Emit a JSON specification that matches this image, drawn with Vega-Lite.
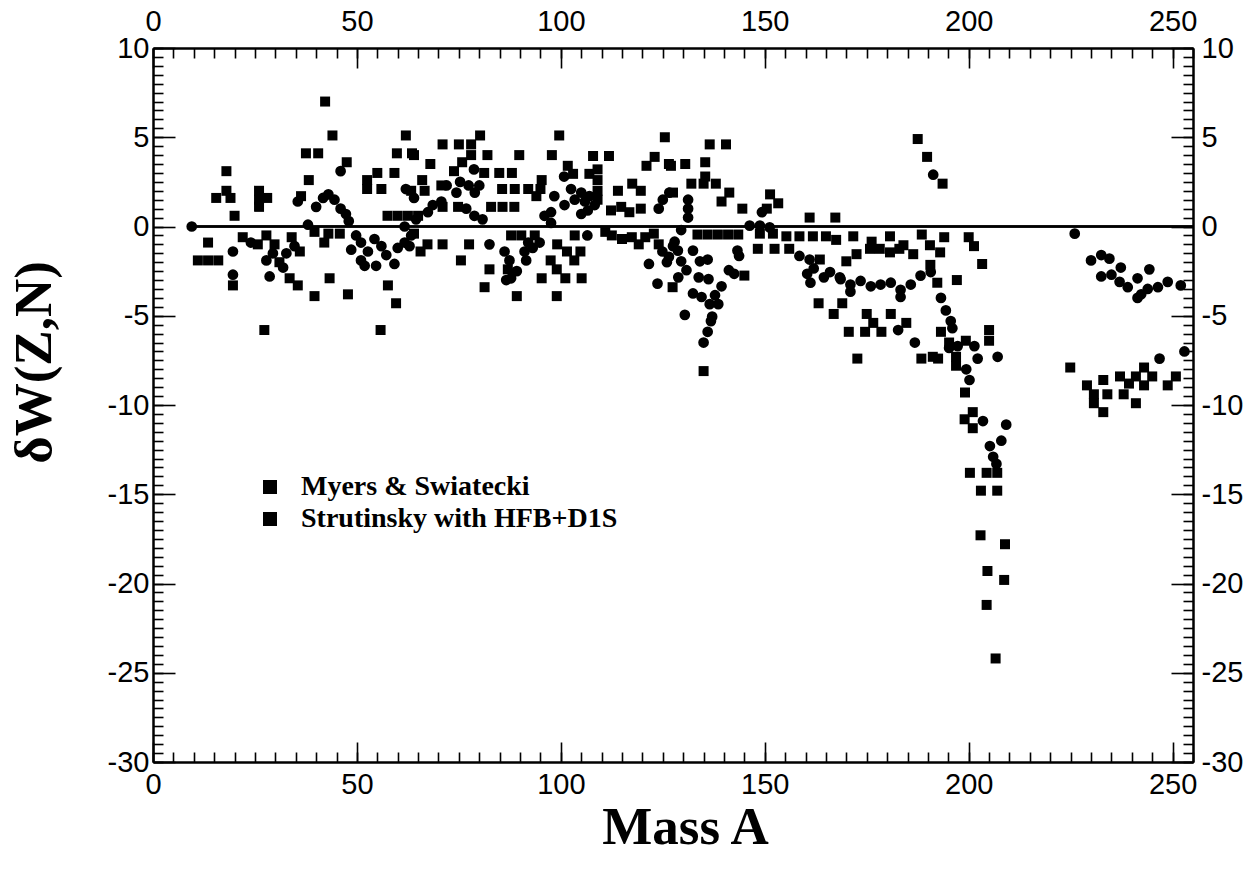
{
  "$schema": "https://vega.github.io/schema/vega-lite/v6.json",
  "width": 1040,
  "height": 714,
  "autosize": {"type": "none"},
  "padding": {"left": 153, "top": 48, "right": 64, "bottom": 110},
  "background": "white",
  "config": {
    "view": {"stroke": null},
    "axis": {
      "domainColor": "black", "domainWidth": 2, "tickColor": "black", "tickWidth": 1.6,
      "labelFont": "Liberation Sans", "labelFontSize": 29, "labelColor": "black",
      "grid": false, "labelFlush": false, "labelOverlap": false, "titleColor": "black"
    }
  },
  "datasets": {
    "pts": [
      {"A":42.2,"W":7.0,"s":"M"},{"A":44,"W":5.1,"s":"M"},{"A":62,"W":5.1,"s":"M"},{"A":37.5,"W":4.1,"s":"M"},{"A":40.5,"W":4.1,"s":"M"},
      {"A":59.8,"W":4.1,"s":"M"},{"A":63.5,"W":4.1,"s":"M"},{"A":47.5,"W":3.6,"s":"M"},{"A":18,"W":3.1,"s":"M"},{"A":38.2,"W":2.6,"s":"M"},
      {"A":55,"W":3.0,"s":"M"},{"A":59.2,"W":3.0,"s":"M"},{"A":52.5,"W":2.6,"s":"M"},{"A":52.5,"W":2.1,"s":"M"},{"A":56,"W":2.1,"s":"M"},
      {"A":18,"W":2.0,"s":"M"},{"A":15.5,"W":1.6,"s":"M"},{"A":19,"W":1.6,"s":"M"},{"A":26,"W":2.0,"s":"M"},{"A":26,"W":1.5,"s":"M"},
      {"A":28,"W":1.6,"s":"M"},{"A":26,"W":1.1,"s":"M"},{"A":36.3,"W":1.7,"s":"M"},{"A":20,"W":0.6,"s":"M"},{"A":57.5,"W":0.6,"s":"M"},
      {"A":60,"W":0.6,"s":"M"},{"A":62.5,"W":0.6,"s":"M"},{"A":65,"W":0.6,"s":"M"},{"A":13.5,"W":-0.9,"s":"M"},{"A":11,"W":-1.9,"s":"M"},
      {"A":13.5,"W":-1.9,"s":"M"},{"A":16,"W":-1.9,"s":"M"},{"A":19.6,"W":-3.3,"s":"M"},{"A":33.5,"W":-2.9,"s":"M"},{"A":35.5,"W":-3.3,"s":"M"},
      {"A":39.6,"W":-3.9,"s":"M"},{"A":43.3,"W":-2.9,"s":"M"},{"A":39.6,"W":-0.3,"s":"M"},{"A":43,"W":-0.4,"s":"M"},{"A":45.8,"W":-0.4,"s":"M"},
      {"A":42,"W":-0.9,"s":"M"},{"A":47.8,"W":-3.8,"s":"M"},{"A":57.6,"W":-3.3,"s":"M"},{"A":59.6,"W":-4.3,"s":"M"},{"A":27.3,"W":-5.8,"s":"M"},
      {"A":55.8,"W":-5.8,"s":"M"},{"A":22,"W":-0.6,"s":"M"},{"A":25.7,"W":-1.0,"s":"M"},{"A":27.8,"W":-0.5,"s":"M"},{"A":29.8,"W":-1.0,"s":"M"},
      {"A":31,"W":-2.0,"s":"M"},{"A":34,"W":-0.6,"s":"M"},{"A":36,"W":-1.4,"s":"M"},
      {"A":80.2,"W":5.1,"s":"M"},{"A":99.6,"W":5.1,"s":"M"},{"A":125.5,"W":5.0,"s":"M"},{"A":71,"W":4.6,"s":"M"},{"A":75,"W":4.6,"s":"M"},
      {"A":78,"W":4.6,"s":"M"},{"A":78,"W":4.0,"s":"M"},{"A":64,"W":4.0,"s":"M"},{"A":82,"W":4.0,"s":"M"},{"A":89.8,"W":4.0,"s":"M"},
      {"A":97.8,"W":4.0,"s":"M"},{"A":107.9,"W":3.95,"s":"M"},{"A":111.8,"W":3.95,"s":"M"},{"A":123,"W":3.9,"s":"M"},{"A":121,"W":3.4,"s":"M"},
      {"A":127,"W":3.4,"s":"M"},{"A":68,"W":3.5,"s":"M"},{"A":101.7,"W":3.4,"s":"M"},{"A":103,"W":2.95,"s":"M"},{"A":107,"W":2.95,"s":"M"},
      {"A":109,"W":3.2,"s":"M"},{"A":109,"W":2.6,"s":"M"},{"A":109,"W":2.0,"s":"M"},{"A":109,"W":1.5,"s":"M"},{"A":75.8,"W":3.6,"s":"M"},
      {"A":73.8,"W":3.1,"s":"M"},{"A":81.2,"W":3.0,"s":"M"},{"A":84.9,"W":3.0,"s":"M"},{"A":88,"W":3.0,"s":"M"},{"A":66,"W":2.6,"s":"M"},
      {"A":63.3,"W":2.0,"s":"M"},{"A":66.6,"W":2.0,"s":"M"},{"A":70.7,"W":2.3,"s":"M"},{"A":71,"W":1.1,"s":"M"},{"A":74.8,"W":1.1,"s":"M"},
      {"A":82.9,"W":1.1,"s":"M"},{"A":85.7,"W":1.1,"s":"M"},{"A":88.6,"W":1.1,"s":"M"},{"A":85.6,"W":2.1,"s":"M"},{"A":88.7,"W":2.1,"s":"M"},
      {"A":92,"W":2.1,"s":"M"},{"A":95,"W":2.1,"s":"M"},{"A":95.3,"W":2.6,"s":"M"},{"A":94,"W":1.7,"s":"M"},{"A":114,"W":2.0,"s":"M"},
      {"A":119.6,"W":2.0,"s":"M"},{"A":117.5,"W":2.4,"s":"M"},{"A":112.3,"W":0.9,"s":"M"},{"A":114.8,"W":1.1,"s":"M"},{"A":116.8,"W":0.8,"s":"M"},
      {"A":119.6,"W":1.0,"s":"M"},{"A":64,"W":-0.4,"s":"M"},{"A":65.6,"W":-1.4,"s":"M"},{"A":67.3,"W":-1.0,"s":"M"},{"A":71,"W":-1.0,"s":"M"},
      {"A":77.5,"W":-1.0,"s":"M"},{"A":75.5,"W":-1.9,"s":"M"},{"A":87.8,"W":-0.5,"s":"M"},{"A":90.3,"W":-0.5,"s":"M"},{"A":93.6,"W":-0.5,"s":"M"},
      {"A":99.1,"W":-1.0,"s":"M"},{"A":101.5,"W":-1.4,"s":"M"},{"A":104.8,"W":-1.4,"s":"M"},{"A":97.5,"W":-1.9,"s":"M"},{"A":103.3,"W":-1.9,"s":"M"},
      {"A":82.5,"W":-2.4,"s":"M"},{"A":87,"W":-2.4,"s":"M"},{"A":95.3,"W":-2.9,"s":"M"},{"A":99,"W":-2.4,"s":"M"},{"A":101.1,"W":-2.9,"s":"M"},
      {"A":105.1,"W":-2.9,"s":"M"},{"A":81.3,"W":-3.4,"s":"M"},{"A":89.2,"W":-3.9,"s":"M"},{"A":99,"W":-3.9,"s":"M"},{"A":103.4,"W":-0.5,"s":"M"},
      {"A":110.9,"W":-0.3,"s":"M"},{"A":112.5,"W":-0.5,"s":"M"},{"A":115,"W":-0.7,"s":"M"},{"A":117.4,"W":-0.6,"s":"M"},{"A":119.1,"W":-1.0,"s":"M"},
      {"A":120.7,"W":-0.6,"s":"M"},{"A":122.8,"W":-0.4,"s":"M"},{"A":124,"W":-1.0,"s":"M"},{"A":127.4,"W":-3.4,"s":"M"},
      {"A":136.5,"W":4.6,"s":"M"},{"A":140.5,"W":4.6,"s":"M"},{"A":126.5,"W":3.5,"s":"M"},{"A":130.5,"W":3.5,"s":"M"},{"A":135.4,"W":3.6,"s":"M"},
      {"A":135.4,"W":2.8,"s":"M"},{"A":132,"W":2.4,"s":"M"},{"A":135,"W":2.4,"s":"M"},{"A":138,"W":2.4,"s":"M"},{"A":127.5,"W":1.9,"s":"M"},
      {"A":141.3,"W":1.9,"s":"M"},{"A":139.4,"W":1.4,"s":"M"},{"A":151.3,"W":1.8,"s":"M"},{"A":153.3,"W":1.3,"s":"M"},{"A":144.5,"W":1.0,"s":"M"},
      {"A":150.5,"W":1.0,"s":"M"},{"A":161,"W":0.5,"s":"M"},{"A":167.3,"W":0.5,"s":"M"},{"A":133.5,"W":-0.45,"s":"M"},{"A":136,"W":-0.45,"s":"M"},
      {"A":138.5,"W":-0.45,"s":"M"},{"A":141,"W":-0.45,"s":"M"},{"A":143.5,"W":-0.45,"s":"M"},{"A":148.8,"W":-0.4,"s":"M"},{"A":152,"W":-0.4,"s":"M"},
      {"A":155.3,"W":-0.55,"s":"M"},{"A":158.5,"W":-0.55,"s":"M"},{"A":161.8,"W":-0.55,"s":"M"},{"A":165,"W":-0.55,"s":"M"},{"A":167.5,"W":-0.75,"s":"M"},
      {"A":171.7,"W":-0.55,"s":"M"},{"A":176.2,"W":-0.85,"s":"M"},{"A":180.7,"W":-0.55,"s":"M"},{"A":184,"W":-1.05,"s":"M"},{"A":188.5,"W":-0.45,"s":"M"},
      {"A":190.5,"W":-1.05,"s":"M"},{"A":193,"W":-1.45,"s":"M"},{"A":148.3,"W":-1.25,"s":"M"},{"A":152.4,"W":-1.25,"s":"M"},{"A":156,"W":-1.25,"s":"M"},
      {"A":163.5,"W":-1.85,"s":"M"},{"A":170,"W":-1.95,"s":"M"},{"A":172.5,"W":-1.55,"s":"M"},{"A":175.8,"W":-1.25,"s":"M"},{"A":178.2,"W":-1.25,"s":"M"},
      {"A":180.7,"W":-1.45,"s":"M"},{"A":183,"W":-1.25,"s":"M"},{"A":186.4,"W":-1.55,"s":"M"},{"A":190.6,"W":-2.15,"s":"M"},{"A":192.3,"W":-3.15,"s":"M"},
      {"A":145,"W":-2.75,"s":"M"},{"A":163.2,"W":-4.3,"s":"M"},{"A":169,"W":-4.3,"s":"M"},{"A":166.9,"W":-4.9,"s":"M"},{"A":175,"W":-4.9,"s":"M"},
      {"A":180.9,"W":-4.9,"s":"M"},{"A":176.6,"W":-5.4,"s":"M"},{"A":178.6,"W":-5.9,"s":"M"},{"A":170.6,"W":-5.9,"s":"M"},{"A":174.6,"W":-5.9,"s":"M"},
      {"A":184.7,"W":-5.4,"s":"M"},{"A":172.7,"W":-7.4,"s":"M"},{"A":188.4,"W":-7.4,"s":"M"},{"A":192.5,"W":-7.4,"s":"M"},{"A":135,"W":-8.1,"s":"M"},
      {"A":189.8,"W":3.9,"s":"M"},{"A":193.6,"W":2.4,"s":"M"},{"A":187.5,"W":4.9,"s":"M"},
      {"A":194,"W":-0.6,"s":"M"},{"A":200,"W":-0.6,"s":"M"},{"A":201.3,"W":-1.1,"s":"M"},{"A":203.3,"W":-2.1,"s":"M"},{"A":197.1,"W":-3.0,"s":"M"},
      {"A":193.2,"W":-5.9,"s":"M"},{"A":195.2,"W":-6.5,"s":"M"},{"A":199.3,"W":-6.4,"s":"M"},{"A":205,"W":-5.8,"s":"M"},{"A":205,"W":-6.4,"s":"M"},
      {"A":191.2,"W":-7.3,"s":"M"},{"A":196.9,"W":-7.3,"s":"M"},{"A":196.9,"W":-7.8,"s":"M"},{"A":199.1,"W":-9.3,"s":"M"},{"A":199,"W":-10.8,"s":"M"},
      {"A":201,"W":-10.4,"s":"M"},{"A":201,"W":-11.3,"s":"M"},{"A":200.3,"W":-13.8,"s":"M"},{"A":204.4,"W":-13.8,"s":"M"},{"A":207,"W":-13.8,"s":"M"},
      {"A":203,"W":-14.8,"s":"M"},{"A":207,"W":-14.8,"s":"M"},{"A":202.9,"W":-17.3,"s":"M"},{"A":208.9,"W":-17.8,"s":"M"},{"A":204.6,"W":-19.3,"s":"M"},
      {"A":208.7,"W":-19.8,"s":"M"},{"A":204.4,"W":-21.2,"s":"M"},{"A":206.6,"W":-24.2,"s":"M"},{"A":224.9,"W":-7.9,"s":"M"},{"A":229,"W":-8.9,"s":"M"},
      {"A":230.7,"W":-9.4,"s":"M"},{"A":230.7,"W":-9.9,"s":"M"},{"A":233,"W":-10.4,"s":"M"},{"A":233,"W":-8.6,"s":"M"},{"A":234,"W":-9.4,"s":"M"},
      {"A":238,"W":-9.4,"s":"M"},{"A":237.1,"W":-8.4,"s":"M"},{"A":239.3,"W":-8.8,"s":"M"},{"A":241,"W":-8.4,"s":"M"},{"A":243,"W":-7.9,"s":"M"},
      {"A":243,"W":-8.9,"s":"M"},{"A":245,"W":-8.4,"s":"M"},{"A":241,"W":-9.9,"s":"M"},{"A":248.8,"W":-8.9,"s":"M"},{"A":250.8,"W":-8.4,"s":"M"},

      {"A":9.5,"W":0,"s":"S"},{"A":19.6,"W":-1.4,"s":"S"},{"A":19.6,"W":-2.7,"s":"S"},{"A":28.6,"W":-2.8,"s":"S"},{"A":31.9,"W":-2.3,"s":"S"},
      {"A":35.5,"W":1.4,"s":"S"},{"A":43,"W":1.8,"s":"S"},{"A":41.7,"W":1.6,"s":"S"},{"A":40,"W":1.1,"s":"S"},{"A":44.5,"W":1.5,"s":"S"},
      {"A":46,"W":1.0,"s":"S"},{"A":47.3,"W":0.7,"s":"S"},{"A":48,"W":0.3,"s":"S"},{"A":38,"W":0.1,"s":"S"},{"A":46,"W":3.1,"s":"S"},
      {"A":61.7,"W":0,"s":"S"},{"A":62,"W":2.1,"s":"S"},{"A":64,"W":1.6,"s":"S"},{"A":49.8,"W":-0.5,"s":"S"},{"A":48.6,"W":-1.3,"s":"S"},
      {"A":51,"W":-0.9,"s":"S"},{"A":51,"W":-1.9,"s":"S"},{"A":52.7,"W":-1.4,"s":"S"},{"A":51.9,"W":-2.2,"s":"S"},{"A":54.7,"W":-2.2,"s":"S"},
      {"A":54.3,"W":-0.7,"s":"S"},{"A":56,"W":-1.1,"s":"S"},{"A":57.2,"W":-1.6,"s":"S"},{"A":59.2,"W":-2.1,"s":"S"},{"A":60,"W":-1.2,"s":"S"},
      {"A":61.7,"W":-0.9,"s":"S"},{"A":63.3,"W":-0.5,"s":"S"},{"A":24,"W":-0.9,"s":"S"},{"A":29.4,"W":-1.5,"s":"S"},{"A":27.8,"W":-1.9,"s":"S"},
      {"A":34.7,"W":-1.1,"s":"S"},{"A":32.7,"W":-1.5,"s":"S"},
      {"A":100.8,"W":2.8,"s":"S"},{"A":78.7,"W":3.2,"s":"S"},{"A":75.3,"W":2.5,"s":"S"},{"A":77.4,"W":2.3,"s":"S"},{"A":72,"W":2.3,"s":"S"},
      {"A":74.4,"W":1.9,"s":"S"},{"A":78.9,"W":1.9,"s":"S"},{"A":80,"W":2.3,"s":"S"},{"A":68.6,"W":1.2,"s":"S"},{"A":67.4,"W":0.8,"s":"S"},
      {"A":64.5,"W":0.4,"s":"S"},{"A":70.7,"W":1.4,"s":"S"},{"A":76.8,"W":1.0,"s":"S"},{"A":78.8,"W":0.6,"s":"S"},{"A":80.8,"W":0.4,"s":"S"},
      {"A":98.4,"W":1.7,"s":"S"},{"A":100.9,"W":1.2,"s":"S"},{"A":96,"W":0.6,"s":"S"},{"A":97.6,"W":0.8,"s":"S"},{"A":97.6,"W":0.2,"s":"S"},
      {"A":102.5,"W":2.1,"s":"S"},{"A":105,"W":1.9,"s":"S"},{"A":107,"W":1.7,"s":"S"},{"A":103.4,"W":1.5,"s":"S"},{"A":105.9,"W":1.4,"s":"S"},
      {"A":108.3,"W":1.2,"s":"S"},{"A":105,"W":0.7,"s":"S"},{"A":106.6,"W":0.9,"s":"S"},{"A":124,"W":1.0,"s":"S"},{"A":126.6,"W":1.9,"s":"S"},
      {"A":125,"W":1.5,"s":"S"},{"A":62.9,"W":-1.1,"s":"S"},{"A":82.5,"W":-1.0,"s":"S"},{"A":86.2,"W":-1.4,"s":"S"},{"A":87.4,"W":-1.9,"s":"S"},
      {"A":92,"W":-0.9,"s":"S"},{"A":94.8,"W":-0.9,"s":"S"},{"A":91.1,"W":-1.4,"s":"S"},{"A":93.1,"W":-1.2,"s":"S"},{"A":91.5,"W":-1.9,"s":"S"},
      {"A":89.2,"W":-2.5,"s":"S"},{"A":87.8,"W":-2.9,"s":"S"},{"A":86.6,"W":-3.0,"s":"S"},{"A":106.5,"W":-0.5,"s":"S"},{"A":121.6,"W":-2.1,"s":"S"},
      {"A":123.7,"W":-3.2,"s":"S"},{"A":124.9,"W":-1.4,"s":"S"},{"A":126.5,"W":-1.7,"s":"S"},{"A":126,"W":-2.0,"s":"S"},{"A":127.5,"W":-1.1,"s":"S"},
      {"A":131.2,"W":1.5,"s":"S"},{"A":131.2,"W":1.0,"s":"S"},{"A":131.2,"W":0.5,"s":"S"},{"A":149.3,"W":0.8,"s":"S"},{"A":146.3,"W":0.05,"s":"S"},
      {"A":148.8,"W":0.05,"s":"S"},{"A":151.2,"W":-0.05,"s":"S"},{"A":129.5,"W":-0.2,"s":"S"},{"A":127.9,"W":-0.85,"s":"S"},{"A":128.7,"W":-1.35,"s":"S"},
      {"A":132.4,"W":-1.35,"s":"S"},{"A":136,"W":-1.85,"s":"S"},{"A":129.5,"W":-1.95,"s":"S"},{"A":130.8,"W":-2.45,"s":"S"},{"A":134.1,"W":-1.95,"s":"S"},
      {"A":133.8,"W":-2.85,"s":"S"},{"A":128.8,"W":-2.85,"s":"S"},{"A":136.2,"W":-2.95,"s":"S"},{"A":139.4,"W":-3.35,"s":"S"},{"A":132.4,"W":-3.75,"s":"S"},
      {"A":134.5,"W":-3.95,"s":"S"},{"A":137.8,"W":-3.85,"s":"S"},{"A":136.5,"W":-4.35,"s":"S"},{"A":138.6,"W":-4.35,"s":"S"},{"A":130.4,"W":-4.95,"s":"S"},
      {"A":137.1,"W":-5.05,"s":"S"},{"A":136.8,"W":-5.3,"s":"S"},{"A":136,"W":-5.9,"s":"S"},{"A":135,"W":-6.5,"s":"S"},{"A":141.2,"W":-2.45,"s":"S"},
      {"A":143.7,"W":-1.65,"s":"S"},{"A":143.3,"W":-1.35,"s":"S"},{"A":142.5,"W":-2.65,"s":"S"},{"A":158.5,"W":-1.65,"s":"S"},{"A":161,"W":-1.85,"s":"S"},
      {"A":162,"W":-2.35,"s":"S"},{"A":160.4,"W":-2.65,"s":"S"},{"A":166,"W":-2.55,"s":"S"},{"A":168.4,"W":-2.85,"s":"S"},{"A":161.2,"W":-3.15,"s":"S"},
      {"A":164.5,"W":-2.85,"s":"S"},{"A":168.6,"W":-2.95,"s":"S"},{"A":171,"W":-3.25,"s":"S"},{"A":173.5,"W":-3.05,"s":"S"},{"A":176,"W":-3.35,"s":"S"},
      {"A":178.4,"W":-3.25,"s":"S"},{"A":180.9,"W":-3.15,"s":"S"},{"A":183.3,"W":-3.55,"s":"S"},{"A":185.8,"W":-3.25,"s":"S"},{"A":188.2,"W":-2.75,"s":"S"},
      {"A":190.7,"W":-2.55,"s":"S"},{"A":171,"W":-3.65,"s":"S"},{"A":183.3,"W":-3.95,"s":"S"},{"A":182.7,"W":-5.8,"s":"S"},{"A":186.8,"W":-6.5,"s":"S"},
      {"A":191.3,"W":2.9,"s":"S"},
      {"A":193.2,"W":-4.0,"s":"S"},{"A":194.4,"W":-4.7,"s":"S"},{"A":195.6,"W":-5.3,"s":"S"},{"A":196,"W":-5.7,"s":"S"},{"A":195.2,"W":-6.8,"s":"S"},
      {"A":197.3,"W":-6.7,"s":"S"},{"A":201.4,"W":-6.7,"s":"S"},{"A":202.2,"W":-7.4,"s":"S"},{"A":207.1,"W":-7.3,"s":"S"},{"A":199.4,"W":-8.0,"s":"S"},
      {"A":200.2,"W":-8.6,"s":"S"},{"A":203.5,"W":-10.9,"s":"S"},{"A":209.2,"W":-11.1,"s":"S"},{"A":208,"W":-12.0,"s":"S"},{"A":205.2,"W":-12.3,"s":"S"},
      {"A":206,"W":-12.9,"s":"S"},{"A":206.8,"W":-13.3,"s":"S"},{"A":226,"W":-0.4,"s":"S"},{"A":230,"W":-1.9,"s":"S"},{"A":232.5,"W":-1.6,"s":"S"},
      {"A":234.5,"W":-1.8,"s":"S"},{"A":237.3,"W":-2.3,"s":"S"},{"A":232.5,"W":-2.8,"s":"S"},{"A":235,"W":-2.7,"s":"S"},{"A":237,"W":-3.1,"s":"S"},
      {"A":239,"W":-3.4,"s":"S"},{"A":241.4,"W":-2.9,"s":"S"},{"A":244.3,"W":-2.4,"s":"S"},{"A":242.3,"W":-3.8,"s":"S"},{"A":243.9,"W":-3.5,"s":"S"},
      {"A":246.4,"W":-3.4,"s":"S"},{"A":248.8,"W":-3.1,"s":"S"},{"A":252,"W":-3.3,"s":"S"},{"A":241.4,"W":-4.0,"s":"S"},{"A":246.8,"W":-7.4,"s":"S"},
      {"A":252.9,"W":-7.0,"s":"S"}
    ],
    "zero": [{"A": 9.5, "A2": 255, "W": 0}]
  },
  "resolve": {"axis": {"x": "independent", "y": "independent"}},
  "layer": [
    {
      "data": {"name": "pts"},
      "transform": [{"filter": "datum.s == 'M'"}],
      "mark": {"type": "point", "shape": "square", "filled": true, "size": 100, "opacity": 1},
      "encoding": {
        "x": {"field": "A", "type": "quantitative", "scale": {"domain": [0, 255], "nice": false, "zero": false},
          "axis": {"orient": "bottom", "values": [0, 50, 100, 150, 200, 250], "tickSize": -20, "labelPadding": 28,
            "labelExpr": "'' + datum.value",
            "title": "Mass A", "titleFont": "Liberation Serif", "titleFontSize": 53, "titleFontWeight": "bold", "titlePadding": 2, "titleX": 532}},
        "y": {"field": "W", "type": "quantitative", "scale": {"domain": [-30, 10], "nice": false, "zero": false},
          "axis": {"orient": "left", "values": [-30, -25, -20, -15, -10, -5, 0, 5, 10], "tickSize": -22, "labelPadding": 26,
            "labelExpr": "'' + datum.value",
            "title": "δW(Z,N)", "titleFont": "Liberation Serif", "titleFontSize": 53, "titleFontWeight": "bold", "titlePadding": 46, "titleY": 314}},
        "color": {"field": "s", "type": "nominal", "scale": {"domain": ["M", "S"], "range": ["black", "black"]},
          "legend": {"orient": "none", "legendX": 103, "legendY": 425, "title": null, "symbolType": "square", "symbolSize": 196,
            "symbolStrokeWidth": 0, "labelFont": "Liberation Serif", "labelFontWeight": "bold", "labelFontSize": 28, "labelColor": "black",
            "labelOffset": 17, "rowPadding": 4, "padding": 0, "labelLimit": 600,
            "labelExpr": "datum.label == 'M' ? 'Myers & Swiatecki' : 'Strutinsky with HFB+D1S'"}}
      }
    },
    {
      "data": {"name": "pts"},
      "transform": [{"filter": "datum.s == 'S'"}],
      "mark": {"type": "point", "shape": "circle", "filled": true, "size": 115, "opacity": 1, "color": "black"},
      "encoding": {
        "x": {"field": "A", "type": "quantitative",
          "axis": {"orient": "top", "values": [0, 50, 100, 150, 200, 250], "tickSize": -20, "labelPadding": 32, "title": null,
            "labelExpr": "'' + datum.value"}},
        "y": {"field": "W", "type": "quantitative",
          "axis": {"orient": "right", "values": [-30, -25, -20, -15, -10, -5, 0, 5, 10], "tickSize": -22, "labelPadding": 30, "title": null,
            "labelExpr": "'' + datum.value"}}
      }
    },
    {
      "data": {"name": "zero"},
      "mark": {"type": "rule", "color": "black", "strokeWidth": 2.5},
      "encoding": {
        "x": {"field": "A", "type": "quantitative",
          "axis": {"orient": "bottom", "values": [0,5,10,15,20,25,30,35,40,45,50,55,60,65,70,75,80,85,90,95,100,105,110,115,120,125,130,135,140,145,150,155,160,165,170,175,180,185,190,195,200,205,210,215,220,225,230,235,240,245,250,255], "tickSize": -10, "labels": false, "title": null}},
        "x2": {"field": "A2"},
        "y": {"field": "W", "type": "quantitative",
          "axis": {"orient": "left", "values": [-30,-29.5,-29,-28.5,-28,-27.5,-27,-26.5,-26,-25.5,-25,-24.5,-24,-23.5,-23,-22.5,-22,-21.5,-21,-20.5,-20,-19.5,-19,-18.5,-18,-17.5,-17,-16.5,-16,-15.5,-15,-14.5,-14,-13.5,-13,-12.5,-12,-11.5,-11,-10.5,-10,-9.5,-9,-8.5,-8,-7.5,-7,-6.5,-6,-5.5,-5,-4.5,-4,-3.5,-3,-2.5,-2,-1.5,-1,-0.5,0,0.5,1,1.5,2,2.5,3,3.5,4,4.5,5,5.5,6,6.5,7,7.5,8,8.5,9,9.5,10], "tickSize": -10, "labels": false, "title": null}}
      }
    },
    {
      "data": {"name": "zero"},
      "mark": {"type": "rule", "color": "black", "strokeWidth": 2.5},
      "encoding": {
        "x": {"field": "A", "type": "quantitative",
          "axis": {"orient": "top", "values": [0,5,10,15,20,25,30,35,40,45,50,55,60,65,70,75,80,85,90,95,100,105,110,115,120,125,130,135,140,145,150,155,160,165,170,175,180,185,190,195,200,205,210,215,220,225,230,235,240,245,250,255], "tickSize": -10, "labels": false, "title": null}},
        "x2": {"field": "A2"},
        "y": {"field": "W", "type": "quantitative",
          "axis": {"orient": "right", "values": [-30,-29.5,-29,-28.5,-28,-27.5,-27,-26.5,-26,-25.5,-25,-24.5,-24,-23.5,-23,-22.5,-22,-21.5,-21,-20.5,-20,-19.5,-19,-18.5,-18,-17.5,-17,-16.5,-16,-15.5,-15,-14.5,-14,-13.5,-13,-12.5,-12,-11.5,-11,-10.5,-10,-9.5,-9,-8.5,-8,-7.5,-7,-6.5,-6,-5.5,-5,-4.5,-4,-3.5,-3,-2.5,-2,-1.5,-1,-0.5,0,0.5,1,1.5,2,2.5,3,3.5,4,4.5,5,5.5,6,6.5,7,7.5,8,8.5,9,9.5,10], "tickSize": -10, "labels": false, "title": null}}
      }
    }
  ]
}
